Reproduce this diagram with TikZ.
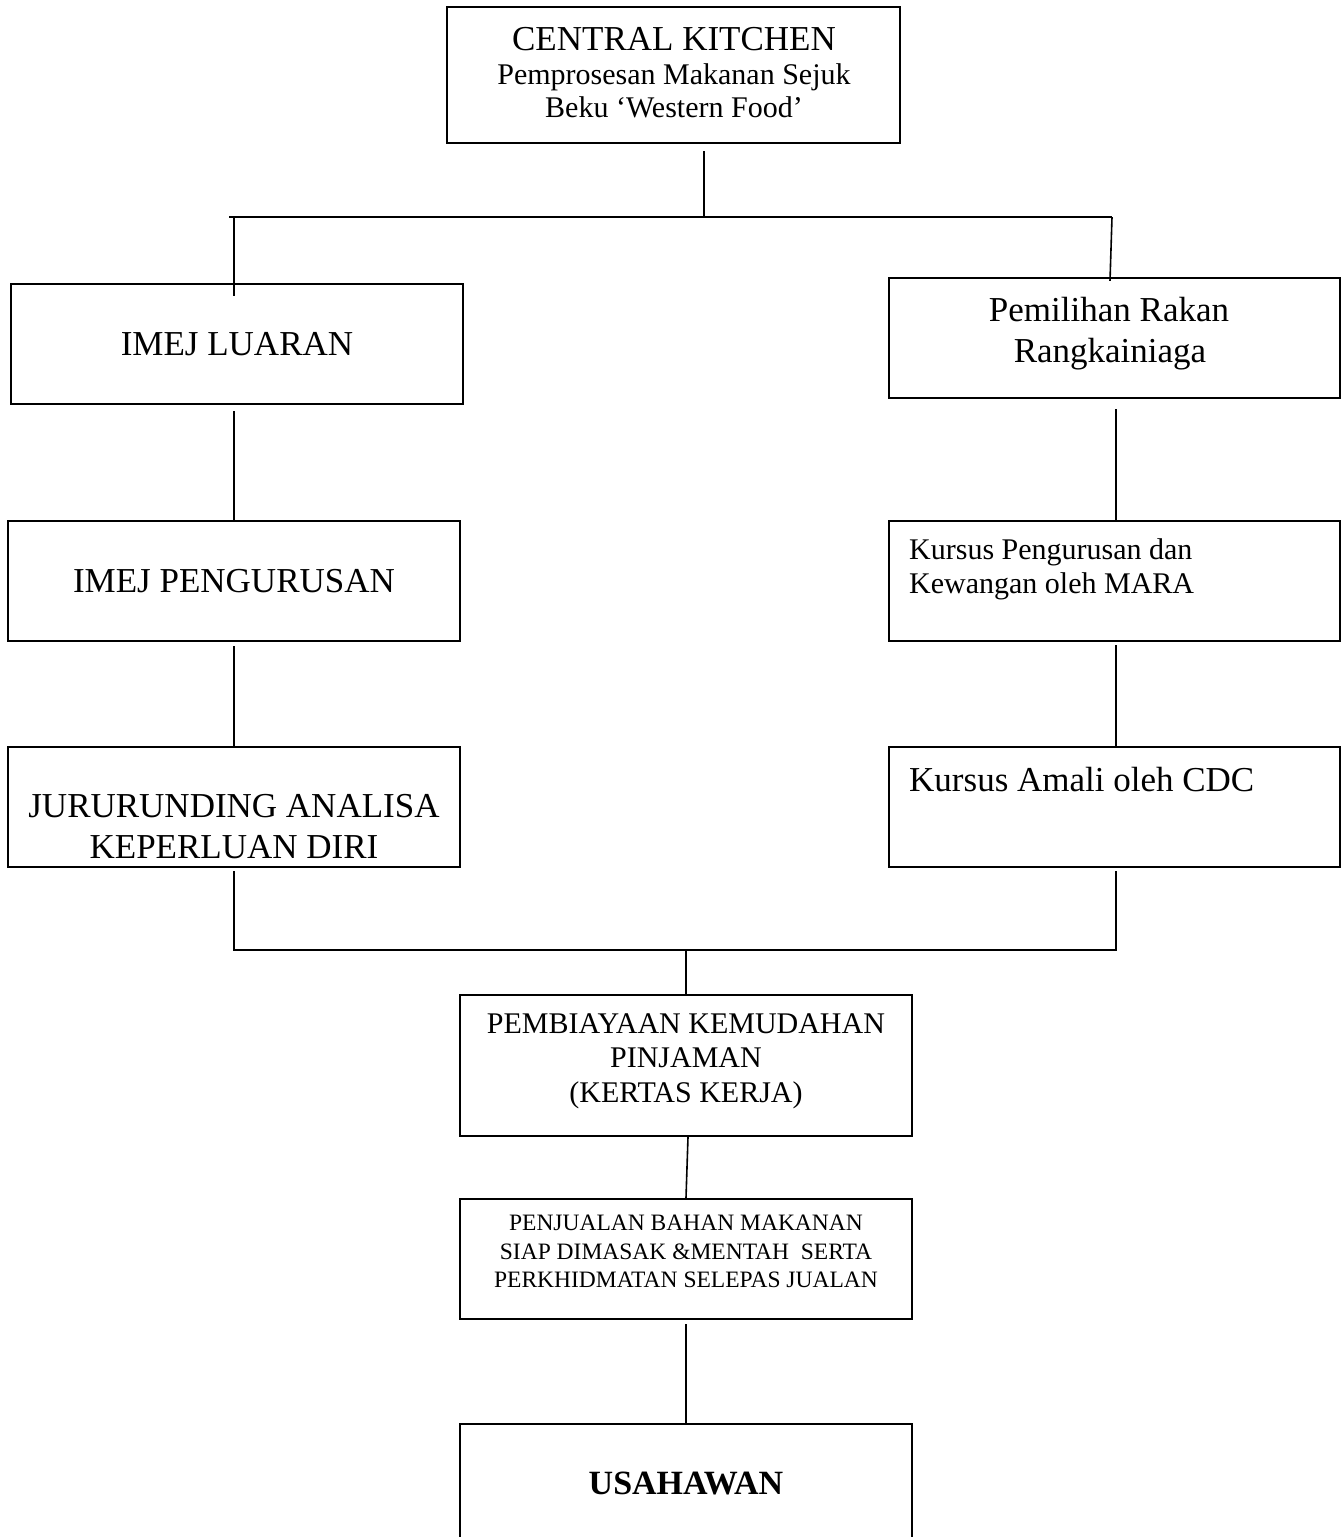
\documentclass[tikz,border=0pt]{standalone}
\usepackage{fontspec}
\setmainfont{Liberation Serif}
\usetikzlibrary{calc}
\tikzset{
  box/.style={draw, rectangle, line width=2.2pt, inner sep=0pt},
  conn/.style={line width=1.6pt},
  tbig/.style={anchor=base, inner sep=0pt, font=\fontsize{35}{40}\selectfont},
  tmid/.style={anchor=base, inner sep=0pt, font=\fontsize{30}{34}\selectfont},
  tsm/.style={anchor=base, inner sep=0pt, font=\fontsize{23.5}{27}\selectfont},
  tbold/.style={anchor=base, inner sep=0pt, font=\fontsize{34}{39}\selectfont\bfseries},
  tleft/.style={anchor=base west},
}
\begin{document}
\begin{tikzpicture}[x=1pt,y=-1pt]
\clip (0,0) rectangle (1342,1537);
\fill[white] (0,0) rectangle (1342,1537);

% boxes
\node[box, minimum width=453pt, minimum height=136pt] (ck) at (673.5,75) {};
\node[box, minimum width=452pt, minimum height=120pt] (luar) at (237,344) {};
\node[box, minimum width=451pt, minimum height=120pt] (rakan) at (1114.5,338) {};
\node[box, minimum width=452pt, minimum height=120pt] (urus) at (234,581) {};
\node[box, minimum width=451pt, minimum height=120pt] (kursA) at (1114.5,581) {};
\node[box, minimum width=452pt, minimum height=120pt] (juru) at (234,807) {};
\node[box, minimum width=451pt, minimum height=120pt] (amali) at (1114.5,807) {};
\node[box, minimum width=452pt, minimum height=141pt] (biaya) at (686,1065.5) {};
\node[box, minimum width=452pt, minimum height=120pt] (jual) at (686,1259) {};
\node[box, minimum width=452pt, minimum height=136pt] (usa) at (686,1492) {};

% texts
\node[tbig] (ck1) at (674,50) {CENTRAL KITCHEN};
\node[tmid] (ck2) at (674,84) {Pemprosesan Makanan Sejuk};
\node[tmid] (ck3) at (674,117) {Beku ‘Western Food’};

\node[tbig] (luar1) at (237,355) {IMEJ LUARAN};

\node[tbig] (rakan1) at (1109,321) {Pemilihan Rakan};
\node[tbig] (rakan2) at (1110,362) {Rangkainiaga};

\node[tbig] (urus1) at (234,592) {IMEJ PENGURUSAN};

\node[tmid, tleft] (kursA1) at (909,559) {Kursus Pengurusan dan};
\node[tmid, tleft] (kursA2) at (909,593) {Kewangan oleh MARA};

\node[tbig] (juru1) at (234,817) {JURURUNDING ANALISA};
\node[tbig] (juru2) at (234,858) {KEPERLUAN DIRI};

\node[tbig, tleft] (amali1) at (909,791) {Kursus Amali oleh CDC};

\node[tmid] (biaya1) at (686,1033) {PEMBIAYAAN KEMUDAHAN};
\node[tmid] (biaya2) at (686,1067) {PINJAMAN};
\node[tmid] (biaya3) at (686,1102) {(KERTAS KERJA)};

\node[tsm] (jual1) at (686,1230) {PENJUALAN BAHAN MAKANAN};
\node[tsm] (jual2) at (686,1259) {SIAP DIMASAK \&MENTAH \ SERTA};
\node[tsm] (jual3) at (686,1287) {PERKHIDMATAN SELEPAS JUALAN};

\node[tbold] (usa1) at (686,1494) {USAHAWAN};

% junction coordinates
\coordinate (busC) at (704,217);
\coordinate (busL) at (229,217);
\coordinate (busR) at (1112,217);
\coordinate (dL) at (234,217);
\coordinate (jn) at (686,950);

% connectors
\draw[conn] ($(busC |- ck.south)+(0,7)$) -- (busC);
\draw[conn] (busL) -- (busR);
\draw[conn] (dL) -- ($(dL |- luar.north)+(0,13)$);
\draw[conn] (busR) -- ($(rakan.north)+(-4.5,4)$);
\draw[conn] ($(luar.south)+(-3,6)$) -- (urus.north);
\draw[conn] ($(rakan.south)+(1.5,10)$) -- ($(kursA.north)+(1.5,0)$);
\draw[conn] ($(urus.south)+(0,4)$) -- (juru.north);
\draw[conn] ($(kursA.south)+(1.5,3)$) -- ($(amali.north)+(1.5,0)$);
\draw[conn] ($(juru.south)+(0,3)$) |- (jn) -| ($(amali.south)+(1.5,3)$);
\draw[conn] (jn) -- (biaya.north);
\draw[conn] ($(biaya.south)+(2,0)$) -- (jual.north);
\draw[conn] ($(jual.south)+(0,4)$) -- (usa.north);
\end{tikzpicture}
\end{document}
